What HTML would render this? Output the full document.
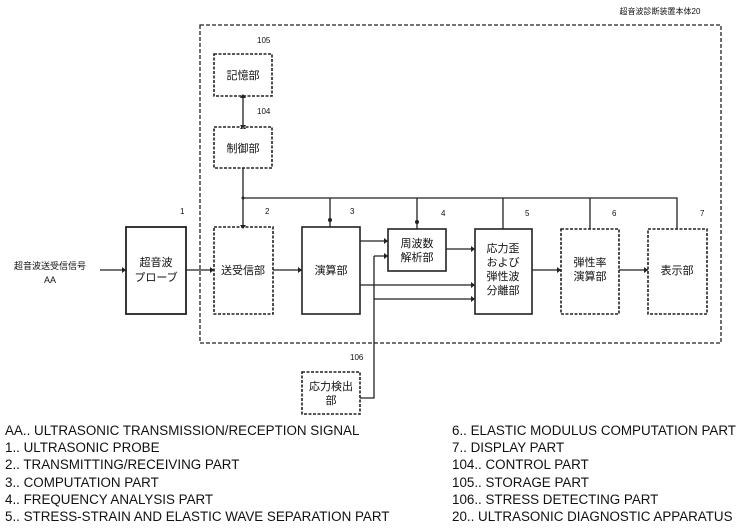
<!DOCTYPE html>
<html><head><meta charset="utf-8"><style>
body{margin:0;background:#fff;width:743px;height:532px;overflow:hidden}
svg text{font-family:"Liberation Sans","Noto Sans CJK JP",sans-serif;fill:#111}
.lg{position:absolute;font-family:"Liberation Sans",sans-serif;font-size:13.4px;color:#111;line-height:17.2px;white-space:nowrap}
</style></head><body>
<svg width="743" height="420" style="position:absolute;left:0;top:0">
<g fill="none" stroke="#222" stroke-width="1.3">
<rect x="200" y="25" width="521" height="318" stroke-dasharray="4,2"/>
<rect x="214" y="54" width="58" height="42" stroke-dasharray="3,1.5" stroke-width="1.6"/>
<rect x="214" y="127" width="58" height="41" stroke-dasharray="3,1.5" stroke-width="1.6"/>
<rect x="126" y="227" width="60" height="87" stroke-width="1.8"/>
<rect x="214" y="227" width="59" height="87" stroke-dasharray="3,1.5" stroke-width="1.6"/>
<rect x="302" y="227" width="58" height="87" stroke-width="1.6"/>
<rect x="388" y="229" width="58" height="42" stroke-width="1.6"/>
<rect x="475" y="229" width="57" height="85" stroke-width="1.6"/>
<rect x="561" y="229" width="58" height="85" stroke-dasharray="3,1.5" stroke-width="1.6"/>
<rect x="648" y="229" width="59" height="85" stroke-dasharray="3,1.5" stroke-width="1.6"/>
<rect x="302" y="372" width="58" height="42" stroke-dasharray="3,1.5" stroke-width="1.6"/>
<path d="M243 96V127M243 168V227M243 198H677V229M330 198V227M417 198V229M503 198V229M590 198V229"/>
<path d="M100 270H126M186 270H214M273 270H302M360 241H388M446 249H475M532 270H561M619 270H648M360 285H475M374 256H388M374 256V398H360M374 299H475"/>
</g>
<g fill="#222">
<circle cx="243" cy="198" r="1.5"/><circle cx="330" cy="220" r="2"/><circle cx="417" cy="222" r="2"/>
<path d="M240 225l3 4 3-4zM240 129l3-4 3 4zM240 98l3-4 3 4zM240 125l3 4 3-4zM210 267l4 3-4 3zM298 267l4 3-4 3zM384 238l4 3-4 3zM384 253l4 3-4 3zM471 246l4 3-4 3zM471 282l4 3-4 3zM471 296l4 3-4 3zM557 267l4 3-4 3zM644 267l4 3-4 3zM122 267l4 3-4 3z"/>
</g>
<g font-size="11" text-anchor="middle">
<text x="243" y="79">記憶部</text>
<text x="243" y="152">制御部</text>
<text x="156" y="266">超音波</text><text x="156" y="281">プローブ</text>
<text x="243" y="274">送受信部</text>
<text x="331" y="274">演算部</text>
<text x="417" y="247">周波数</text><text x="417" y="261">解析部</text>
<text x="503" y="252">応力歪</text><text x="503" y="266">および</text><text x="503" y="280">弾性波</text><text x="503" y="294">分離部</text>
<text x="590" y="266">弾性率</text><text x="590" y="280">演算部</text>
<text x="677" y="274">表示部</text>
<text x="331" y="390">応力検出</text><text x="331" y="404">部</text>
<text x="50" y="269" font-size="9">超音波送受信信号</text><text x="50" y="283" font-size="9">AA</text>
<text x="660" y="14" font-size="8">超音波診断装置本体20</text>
</g>
<g font-size="8" fill="#222">
<text x="257" y="43">105</text><text x="257" y="114">104</text>
<text x="180" y="214">1</text><text x="265" y="214">2</text><text x="350" y="214">3</text>
<text x="441" y="216">4</text><text x="525" y="216">5</text><text x="612" y="216">6</text><text x="700" y="216">7</text>
<text x="350" y="360">106</text>
</g>
</svg>
<div class="lg" style="left:5px;top:422px">AA.. ULTRASONIC TRANSMISSION/RECEPTION SIGNAL<br>1.. ULTRASONIC PROBE<br>2.. TRANSMITTING/RECEIVING PART<br>3.. COMPUTATION PART<br>4.. FREQUENCY ANALYSIS PART<br>5.. STRESS-STRAIN AND ELASTIC WAVE SEPARATION PART</div>
<div class="lg" style="left:452px;top:422px">6.. ELASTIC MODULUS COMPUTATION PART<br>7.. DISPLAY PART<br>104.. CONTROL PART<br>105.. STORAGE PART<br>106.. STRESS DETECTING PART<br>20.. ULTRASONIC DIAGNOSTIC APPARATUS</div>
</body></html>
